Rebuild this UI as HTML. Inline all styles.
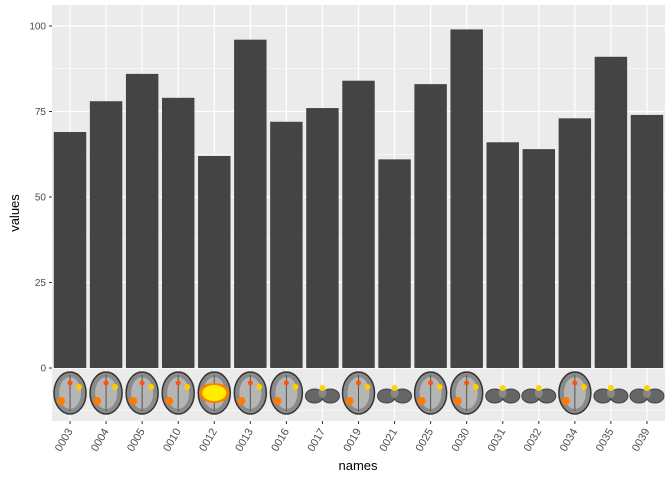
<!DOCTYPE html>
<html><head><meta charset="utf-8"><style>
body{margin:0;background:#fff;font-family:"Liberation Sans",sans-serif}
</style></head><body>
<svg id="c" width="672" height="480" xmlns="http://www.w3.org/2000/svg"></svg>
<script>
const categories=["0003","0004","0005","0010","0012","0013","0016","0017","0019","0021","0025","0030","0031","0032","0034","0035","0039"];
const values=[69,78,86,79,62,96,72,76,84,61,83,99,66,64,73,91,74];
const yTicks=[0,25,50,75,100];
const brainKind=["axial","axial","axial","axial","big","axial","axial","cereb","axial","cereb","axial","axial","cereb","cereb","axial","cereb","cereb"];
const svg=document.getElementById('c');
const NS='http://www.w3.org/2000/svg';
const L=52,R=665,T=5,B=421;
const y=v=>368-v*3.42;
const step=(R-L)/categories.length;
const x=i=>L+step*(i+0.5);
function mk(t,a,p){const e=document.createElementNS(NS,t);for(const k in a)e.setAttribute(k,a[k]);(p||svg).appendChild(e);return e;}
const panel=mk('rect',{x:L,y:T,width:R-L,height:B-T,fill:'#ebebeb'});


for(let i=0;i<yTicks.length-1;i++){const v=(yTicks[i]+yTicks[i+1])/2;mk('line',{x1:L,x2:R,y1:y(v),y2:y(v),stroke:'#fff','stroke-width':0.6});}
mk('line',{x1:L,x2:R,y1:y(-12.5),y2:y(-12.5),stroke:'#fff','stroke-width':0.6});
yTicks.forEach(v=>{
 mk('line',{x1:L,x2:R,y1:y(v),y2:y(v),stroke:'#fff','stroke-width':1.2});
 mk('line',{x1:L-3,x2:L,y1:y(v),y2:y(v),stroke:'#333'});
 const t=mk('text',{x:L-6,y:y(v)+3.5,'text-anchor':'end','font-size':10,fill:'#4d4d4d'});t.textContent=v;
 
 
});
categories.forEach((c,i)=>{
 mk('line',{x1:x(i),x2:x(i),y1:T,y2:B,stroke:'#fff','stroke-width':1.2});
});
categories.forEach((c,i)=>{
 const bw=step*0.9;
 const r=mk('rect',{x:x(i)-bw/2,y:y(values[i]),width:bw,height:y(0)-y(values[i]),fill:'#444444'});
 
 
 const g=mk('g',{});
 
 
 const cx=x(i),cy=393,k=brainKind[i];
 if(k==='cereb'){
  mk('ellipse',{cx:cx-8,cy:cy+3,rx:9,ry:7,fill:'#666',stroke:'#444'},g);
  mk('ellipse',{cx:cx+8,cy:cy+3,rx:9,ry:7,fill:'#666',stroke:'#444'},g);
  mk('ellipse',{cx:cx,cy:cy,rx:4,ry:5,fill:'#888'},g);
  mk('ellipse',{cx:cx,cy:cy-5,rx:3,ry:3,fill:'#ffd400'},g);
 }else{
  mk('ellipse',{cx:cx,cy:cy,rx:16,ry:21,fill:'#8a8a8a',stroke:'#333','stroke-width':1.5},g);
  mk('ellipse',{cx:cx,cy:cy,rx:11,ry:16,fill:'#b5b5b5'},g);
  mk('line',{x1:cx,x2:cx,y1:cy-18,y2:cy+18,stroke:'#555'},g);
  if(k==='big'){mk('ellipse',{cx:cx,cy:cy,rx:15,ry:10,fill:'#ff8000'},g);mk('ellipse',{cx:cx,cy:cy,rx:12,ry:8,fill:'#ffee00'},g);}
  else{mk('circle',{cx:cx-9,cy:cy+8,r:4,fill:'#ff7a00'},g);mk('circle',{cx:cx+9,cy:cy-6,r:3,fill:'#ffcc00'},g);mk('circle',{cx:cx,cy:cy-10,r:2.5,fill:'#ff5500'},g);}
 }
 mk('line',{x1:cx,x2:cx,y1:B,y2:B+3,stroke:'#333'});
 const tx=cx+3,ty=B+10;
 const t=mk('text',{x:tx,y:ty,'text-anchor':'end','font-size':11,fill:'#4d4d4d',transform:`rotate(-60 ${tx} ${ty})`});t.textContent=c;
 
 
});
const xt=mk('text',{x:358,y:470,'text-anchor':'middle','font-size':13,fill:'#000'});xt.textContent='names';


const yt=mk('text',{x:19,y:213,'text-anchor':'middle','font-size':13,fill:'#000',transform:'rotate(-90 19 213)'});yt.textContent='values';


</script>
</body></html>
